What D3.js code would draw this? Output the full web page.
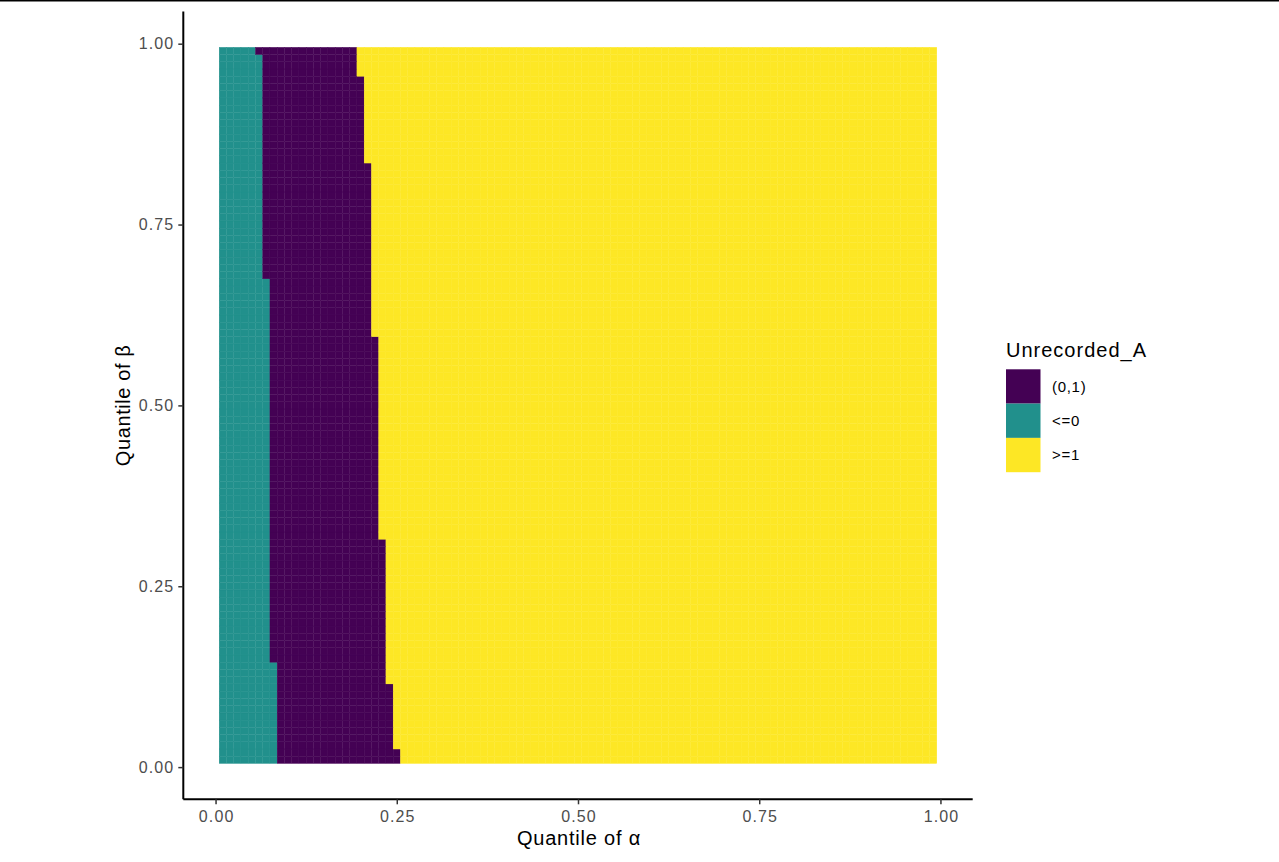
<!DOCTYPE html>
<html>
<head>
<meta charset="utf-8">
<script src="https://cdn.jsdelivr.net/npm/d3@7"></script>
<style>
  html, body { margin: 0; padding: 0; background: #fff; }
  svg { display: block; }
  text { font-family: "Liberation Sans", Arial, sans-serif; }
</style>
</head>
<body>
<svg id="chart" width="1279" height="862"></svg>
<script>
// ---- data ----
const alphaQuantiles = d3.range(1, 100).map(i => i / 100);   // tile centres on x
const betaQuantiles = d3.range(1, 100).map(i => i / 100);    // tile centres on y
// teal (<=0) band: for beta rows starting at tealRowStart[i], alpha <= tealCut[i]
const tealRowStart = [0.01, 0.15, 0.68, 0.99];
const tealCut      = [0.08, 0.07, 0.06, 0.05];
// purple ((0,1)) band: for beta rows starting at purpleRowStart[i], alpha <= purpleCut[i]
const purpleRowStart = [0.01, 0.03, 0.12, 0.32, 0.60, 0.84, 0.96];
const purpleCut      = [0.25, 0.24, 0.23, 0.22, 0.21, 0.20, 0.19];
const categories = ["(0,1)", "<=0", ">=1"];
const categoryColors = ["#440154", "#21908C", "#FDE725"];
const tickValues = [0, 0.25, 0.5, 0.75, 1];
const tickLabels = ["0.00", "0.25", "0.50", "0.75", "1.00"];

function band(starts, cuts, b) {
  let idx = 0;
  starts.forEach((s, i) => { if (b >= s - 1e-9) idx = i; });
  return cuts[idx];
}
const cells = [];
betaQuantiles.forEach(b => {
  const t = band(tealRowStart, tealCut, b);
  const p = band(purpleRowStart, purpleCut, b);
  alphaQuantiles.forEach(a => {
    let cat;
    if (a <= t + 1e-9) cat = "<=0";
    else if (a <= p + 1e-9) cat = "(0,1)";
    else cat = ">=1";
    cells.push({ a, b, cat });
  });
});

// ---- drawing ----
const svg = d3.select("#chart");
const panel = { left: 183.3, right: 972.7, top: 11.5, bottom: 799.3 };
const dom = [-0.0445, 1.0445];
const x = d3.scaleLinear().domain(dom).range([panel.left, panel.right]);
const y = d3.scaleLinear().domain(dom).range([panel.bottom, panel.top]);
const color = d3.scaleOrdinal().domain(categories).range(categoryColors);
const half = 0.005;

// top border line
svg.append("line").attr("x1", 0).attr("x2", 1279).attr("y1", 0.5).attr("y2", 0.5)
  .attr("stroke", "#000").attr("stroke-width", 2);

svg.append("g").selectAll("rect").data(cells).join("rect")
  .attr("x", d => x(d.a - half))
  .attr("width", d => x(d.a + half) - x(d.a - half))
  .attr("y", d => y(d.b + half))
  .attr("height", d => y(d.b - half) - y(d.b + half))
  .attr("fill", d => color(d.cat))
  .attr("stroke", d => color(d.cat))
  .attr("stroke-width", 0.35);

// axes
const xAxis = d3.axisBottom(x).tickValues(tickValues).tickFormat((d, i) => tickLabels[i]).tickSize(5).tickPadding(6);
const yAxis = d3.axisLeft(y).tickValues(tickValues).tickFormat((d, i) => tickLabels[i]).tickSize(5).tickPadding(4);

const gx = svg.append("g").attr("transform", `translate(0,${panel.bottom})`).call(xAxis);
const gy = svg.append("g").attr("transform", `translate(${panel.left},0)`).call(yAxis);
[gx, gy].forEach(g => {
  g.select(".domain").attr("stroke", "#000").attr("stroke-width", 2);
  g.selectAll(".tick line").attr("stroke", "#333").attr("stroke-width", 1.5);
  g.selectAll(".tick text").attr("fill", "#4D4D4D").style("font-size", "16px")
    .style("letter-spacing", "1.1px")
    .style("font-family", '"Liberation Sans", Arial, sans-serif');
});
gx.selectAll(".tick text").attr("dx", "0.55px");
gx.select(".domain").attr("d", `M${panel.left},0H${panel.right}`);
gy.select(".domain").attr("d", `M0,${panel.top}V${panel.bottom}`);

// axis titles
svg.append("text").attr("x", (panel.left + panel.right) / 2 + 1).attr("y", 845)
  .attr("text-anchor", "middle").attr("fill", "#000").style("font-size", "20px")
  .style("letter-spacing", "0.8px")
  .text("Quantile of α");
svg.append("text").attr("transform", `translate(130,${(panel.top + panel.bottom) / 2}) rotate(-90)`)
  .attr("text-anchor", "middle").attr("fill", "#000").style("font-size", "20px")
  .style("letter-spacing", "0.6px")
  .text("Quantile of β");

// legend
const lg = svg.append("g");
lg.append("text").attr("x", 1006).attr("y", 357).attr("fill", "#000").style("font-size", "20px")
  .style("letter-spacing", "1px")
  .text("Unrecorded_A");
categories.forEach((c, i) => {
  const ky = 369.3 + i * 34.3;
  lg.append("rect").attr("x", 1006).attr("y", ky).attr("width", 34.5).attr("height", 34.3)
    .attr("fill", color(c));
  lg.append("text").attr("x", 1052).attr("y", ky + 17.2).attr("dy", "0.35em")
    .attr("fill", "#000").style("font-size", "15px").style("letter-spacing", "0.7px").text(c);
});
</script>
</body>
</html>
